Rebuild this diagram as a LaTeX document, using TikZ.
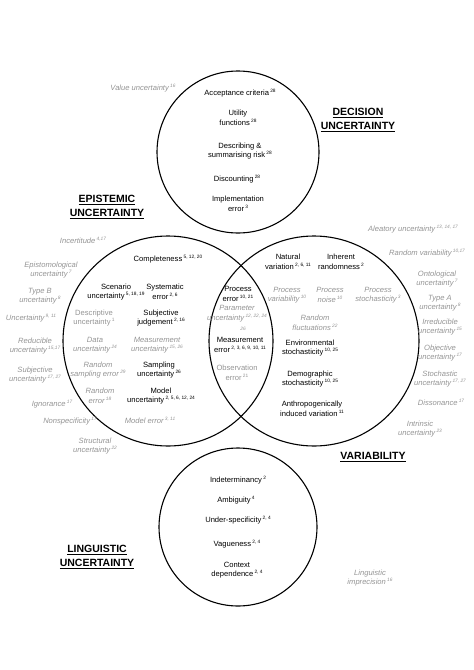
\documentclass[tikz,border=0pt]{standalone}
\usepackage{fontspec}
\setmainfont{Liberation Sans}
\newcommand{\rf}[1]{\,\raisebox{0.8ex}{\fontsize{4.8}{5}\selectfont #1}}
\definecolor{syngray}{gray}{0.58}
\begin{document}
\begin{tikzpicture}[x=1pt,y=-1pt,
  ring/.style={draw, circle, line width=1.1pt, inner sep=0pt},
  lbl/.style={font=\fontsize{7.6}{9.6}\selectfont, align=center, inner sep=0pt},
  syn/.style={lbl, text=syngray, font=\fontsize{7.6}{9.6}\selectfont\itshape},
  dim/.style={lbl, text=syngray},
  head/.style={font=\fontsize{10.5}{14}\selectfont\bfseries, align=center, inner sep=0pt}]
\useasboundingbox (0,0) rectangle (474,670);
% circles
\node[ring, minimum size=162pt] (dec) at (238,152) {};
\node[ring, minimum size=210pt] (epi) at (168,341) {};
\node[ring, minimum size=210pt] (var) at (314,341) {};
\node[ring, minimum size=158pt] (lin) at (238,527) {};
% headings
\node[head] (dech) at (358,120) {\underline{DECISION}\\\underline{UNCERTAINTY}};
\node[head] (epih) at (107,207) {\underline{EPISTEMIC}\\\underline{UNCERTAINTY}};
\node[head] (varh) at (373,457) {\underline{VARIABILITY}};
\node[head] (linh) at (97,557) {\underline{LINGUISTIC}\\\underline{UNCERTAINTY}};
% decision circle
\node[lbl] (acc) at (240,93) {Acceptance criteria\rf{28}};
\node[lbl] (util) at (238,118) {Utility\\functions\rf{28}};
\node[lbl] (desc) at (240,151) {Describing \&\\summarising risk\rf{28}};
\node[lbl] (disc) at (237,179) {Discounting\rf{28}};
\node[lbl] (impl) at (238,204) {Implementation\\error\rf{3}};
\node[syn] (val) at (143,88) {Value uncertainty\rf{16}};
% epistemic circle
\node[lbl] (comp) at (168,259) {Completeness\rf{5, 12, 20}};
\node[lbl] (scen) at (116,292) {Scenario\\uncertainty\rf{5, 18, 19}};
\node[lbl] (syst) at (165,292) {Systematic\\error\rf{2, 6}};
\node[dim] (descu) at (94,318) {Descriptive\\uncertainty\rf{1}};
\node[lbl] (subj) at (161,318) {Subjective\\judgement\rf{2, 16}};
\node[syn] (data) at (95,345) {Data\\uncertainty\rf{24}};
\node[syn] (measu) at (157,345) {Measurement\\uncertainty\rf{15, 26}};
\node[syn] (rse) at (98,370) {Random\\sampling error\rf{29}};
\node[lbl] (samp) at (159,370) {Sampling\\uncertainty\rf{26}};
\node[syn] (rerr) at (100,396) {Random\\error\rf{18}};
\node[lbl] (modu) at (161,396) {Model\\uncertainty\rf{2, 5, 6, 12, 24}};
\node[syn] (moderr) at (150,420) {Model error\rf{3, 11}};
% lens
\node[lbl] (perr) at (238,294) {Process\\error\rf{10, 21}};
\node[syn] (param) at (237,318) {Parameter\\uncertainty\rf{12, 22, 24}\\\hspace*{12pt}{\fontsize{4.8}{5}\selectfont 26}};
\node[lbl] (merr) at (240,345) {Measurement\\error\rf{2, 3, 6, 9, 10, 11}};
\node[dim] (obs) at (237,373) {Observation\\error\rf{21}};
% variability circle
\node[lbl] (nat) at (288,262) {Natural\\variation\rf{2, 6, 11}};
\node[lbl] (inh) at (341,262) {Inherent\\randomness\rf{2}};
\node[syn] (pvar) at (287,295) {Process\\variability\rf{10}};
\node[syn] (pnoise) at (330,295) {Process\\noise\rf{10}};
\node[syn] (pstoch) at (378,295) {Process\\stochasticity\rf{3}};
\node[syn] (rfl) at (315,323) {Random\\fluctuations\rf{22}};
\node[lbl] (env) at (310,348) {Environmental\\stochasticity\rf{10, 25}};
\node[lbl] (demo) at (310,379) {Demographic\\stochasticity\rf{10, 25}};
\node[lbl] (anth) at (312,409) {Anthropogenically\\induced variation\rf{11}};
% linguistic circle
\node[lbl] (indet) at (238,480) {Indeterminancy\rf{2}};
\node[lbl] (amb) at (236,500) {Ambiguity\rf{4}};
\node[lbl] (under) at (238,520) {Under-specificity\rf{2, 4}};
\node[lbl] (vag) at (237,544) {Vagueness\rf{2, 4}};
\node[lbl] (ctx) at (237,570) {Context\\dependence\rf{2, 4}};
\node[syn] (limp) at (370,578) {Linguistic\\imprecision\rf{16}};
% left outer synonyms
\node[syn] (incert) at (83,240) {Incertitude\rf{4,17}};
\node[syn] (epist) at (51,270) {Epistomological\\uncertainty\rf{7}};
\node[syn] (typeb) at (40,296) {Type B\\uncertainty\rf{8}};
\node[syn] (unc) at (31,318) {Uncertainty\rf{9, 11}};
\node[syn] (red) at (35,346) {Reducible\\uncertainty\rf{15,17}};
\node[syn] (subu) at (35,375) {Subjective\\uncertainty\rf{17, 27}};
\node[syn] (ign) at (52,404) {Ignorance\rf{17}};
\node[syn] (nonsp) at (70,421) {Nonspecificity\rf{17}};
\node[syn] (struc) at (95,446) {Structural\\uncertainty\rf{22}};
% right outer synonyms
\node[syn] (alea) at (413,229) {Aleatory uncertainty\rf{13, 14, 17}};
\node[syn] (rvar) at (427,253) {Random variability\rf{10,17}};
\node[syn] (onto) at (437,279) {Ontological\\uncertainty\rf{7}};
\node[syn] (typea) at (440,303) {Type A\\uncertainty\rf{8}};
\node[syn] (irr) at (440,327) {Irreducible\\uncertainty\rf{15}};
\node[syn] (obj) at (440,353) {Objective\\uncertainty\rf{17}};
\node[syn] (stoc) at (440,379) {Stochastic\\uncertainty\rf{17, 27}};
\node[syn] (diss) at (441,402) {Dissonance\rf{17}};
\node[syn] (intr) at (420,429) {Intrinsic\\uncertainty\rf{23}};
\end{tikzpicture}
\end{document}
